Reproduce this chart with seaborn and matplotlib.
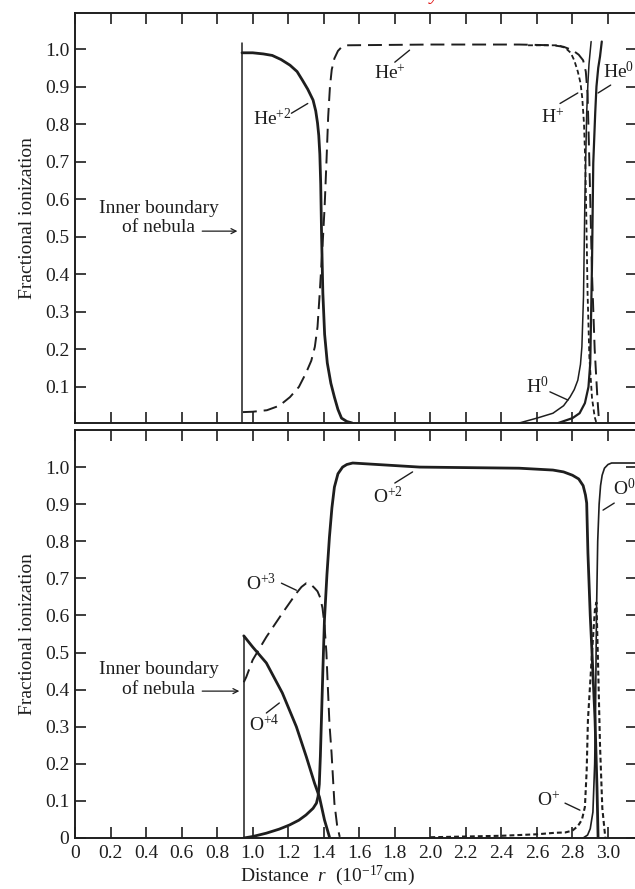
import matplotlib
matplotlib.use("Agg")
import matplotlib.pyplot as plt
import seaborn as sns

# ---- radial distance r (1e17 cm) and fractional ionization per ion ----
# upper panel: hydrogen and helium
bound_top_r = [0.94, 0.94]
bound_top_f = [0.004, 1.016]

he2_r = [0.94, 1.0, 1.06, 1.11, 1.16, 1.21, 1.25, 1.28, 1.31, 1.34, 1.355, 1.365, 1.372, 1.378,
         1.383, 1.388, 1.395, 1.405, 1.42, 1.44, 1.46, 1.48, 1.5, 1.53, 1.56]
he2_f = [0.99, 0.99, 0.987, 0.983, 0.972, 0.957, 0.94, 0.917, 0.893, 0.864, 0.835, 0.803, 0.77, 0.72,
         0.64, 0.5, 0.35, 0.24, 0.164, 0.11, 0.073, 0.04, 0.017, 0.008, 0.004]

he1_r = [0.945, 1.0, 1.08, 1.15, 1.21, 1.26, 1.30, 1.33, 1.35, 1.365, 1.376, 1.393, 1.405, 1.415,
         1.425, 1.435, 1.445, 1.46, 1.48, 1.5, 1.53, 2.0, 2.5, 2.69, 2.75, 2.80, 2.835, 2.86,
         2.875, 2.885, 2.895, 2.91, 2.925, 2.94, 2.95]
he1_f = [0.033, 0.034, 0.038, 0.05, 0.073, 0.1, 0.137, 0.17, 0.207, 0.26, 0.34, 0.473, 0.58, 0.696,
         0.82, 0.9, 0.945, 0.975, 0.995, 1.005, 1.01, 1.012, 1.012, 1.01, 1.006, 0.997, 0.985, 0.97,
         0.94, 0.88, 0.7, 0.4, 0.2, 0.073, 0.004]

h1_r = [2.55, 2.72, 2.76, 2.79, 2.81, 2.83, 2.845, 2.855, 2.865, 2.872, 2.878, 2.885, 2.895, 2.91,
        2.925, 2.935]
h1_f = [1.01, 1.01, 1.003, 0.99, 0.97, 0.94, 0.91, 0.87, 0.8, 0.7, 0.55, 0.35, 0.18, 0.07,
        0.02, 0.004]

h0_r = [2.5, 2.6, 2.69, 2.75, 2.786, 2.81, 2.83, 2.845, 2.853, 2.862, 2.87, 2.88, 2.887, 2.893, 2.905]
h0_f = [0.004, 0.017, 0.03, 0.05, 0.073, 0.093, 0.118, 0.16, 0.207, 0.34, 0.605, 0.83, 0.91, 0.96, 1.02]

he0_r = [2.72, 2.8, 2.84, 2.87, 2.89, 2.9, 2.91, 2.917, 2.928, 2.935, 2.945, 2.955, 2.965]
he0_f = [0.004, 0.017, 0.03, 0.057, 0.1, 0.163, 0.43, 0.696, 0.83, 0.9, 0.95, 0.98, 1.02]

# lower panel: oxygen
bound_bot_r = [0.95, 0.95]
bound_bot_f = [0.0, 0.545]

o4_r = [0.95, 1.0, 1.077, 1.167, 1.246, 1.302, 1.348, 1.376, 1.404, 1.432]
o4_f = [0.545, 0.515, 0.472, 0.391, 0.3, 0.219, 0.148, 0.11, 0.049, 0.003]

o3_r = [0.95, 0.964, 1.0, 1.077, 1.167, 1.246, 1.275, 1.302, 1.325, 1.348, 1.365, 1.38, 1.393,
        1.404, 1.415, 1.421, 1.432, 1.444, 1.46, 1.475, 1.49]
o3_f = [0.42, 0.434, 0.48, 0.542, 0.606, 0.66, 0.677, 0.687, 0.685, 0.674, 0.665, 0.648, 0.62,
        0.575, 0.5, 0.43, 0.31, 0.229, 0.094, 0.035, 0.003]

o2_r = [0.95, 1.0, 1.077, 1.15, 1.207, 1.26, 1.30, 1.34, 1.359, 1.368, 1.375, 1.381, 1.387, 1.395,
        1.404, 1.418, 1.432, 1.446, 1.46, 1.48, 1.506, 1.53, 1.563, 1.94, 2.5, 2.69, 2.75, 2.80,
        2.835, 2.86, 2.873, 2.88, 2.887, 2.9, 2.91, 2.927, 2.938, 2.944]
o2_f = [0.0, 0.004, 0.013, 0.024, 0.035, 0.048, 0.062, 0.08, 0.094, 0.112, 0.145, 0.22, 0.318, 0.45,
        0.588, 0.71, 0.811, 0.89, 0.946, 0.982, 1.0, 1.007, 1.011, 1.0, 0.997, 0.992, 0.987, 0.978,
        0.968, 0.95, 0.925, 0.903, 0.768, 0.6, 0.499, 0.318, 0.137, 0.003]

o0_r = [2.86, 2.885, 2.9, 2.915, 2.925, 2.93, 2.935, 2.942, 2.95, 2.958, 2.967, 2.98, 3.0, 3.02, 3.165]
o0_f = [0.0, 0.008, 0.025, 0.07, 0.2, 0.35, 0.6, 0.8, 0.9, 0.95, 0.978, 0.997, 1.007, 1.011, 1.011]

o1_r = [2.0, 2.2, 2.4, 2.6, 2.7, 2.76, 2.8, 2.83, 2.853, 2.87, 2.88, 2.887, 2.9, 2.91, 2.927,
        2.935, 2.945, 2.955, 2.968, 2.985]
o1_f = [0.002, 0.004, 0.006, 0.01, 0.014, 0.015, 0.02, 0.032, 0.049, 0.084, 0.183, 0.318, 0.42,
        0.5, 0.62, 0.635, 0.45, 0.25, 0.08, 0.0]

x_ticks = [0, 0.2, 0.4, 0.6, 0.8, 1.0, 1.2, 1.4, 1.6, 1.8, 2.0, 2.2, 2.4, 2.6, 2.8, 3.0]
x_tick_labels = ["0", "0.2", "0.4", "0.6", "0.8", "1.0", "1.2", "1.4", "1.6", "1.8",
                 "2.0", "2.2", "2.4", "2.6", "2.8", "3.0"]
y_ticks_top = [0.1, 0.2, 0.3, 0.4, 0.5, 0.6, 0.7, 0.8, 0.9, 1.0]
y_ticks_bot = [0, 0.1, 0.2, 0.3, 0.4, 0.5, 0.6, 0.7, 0.8, 0.9, 1.0]
y_tick_labels_top = ["0.1", "0.2", "0.3", "0.4", "0.5", "0.6", "0.7", "0.8", "0.9", "1.0"]
y_tick_labels_bot = ["0", "0.1", "0.2", "0.3", "0.4", "0.5", "0.6", "0.7", "0.8", "0.9", "1.0"]

# ---- styling ----
sns.set_theme(style="ticks")
INK = "#1e1e1e"
plt.rcParams.update({
    "font.family": ["Liberation Serif", "DejaVu Serif"],
    "mathtext.fontset": "custom",
    "mathtext.rm": "Liberation Serif",
    "mathtext.it": "Liberation Serif:italic",
    "mathtext.bf": "Liberation Serif:bold",
    "lines.scale_dashes": False,
    "axes.edgecolor": INK,
    "axes.linewidth": 1.4,
    "text.color": INK,
    "xtick.color": INK,
    "ytick.color": INK,
    "axes.labelcolor": INK,
})

FS = 14
LONG = (0, (10, 5))
SHORT = (0, (3.5, 2.2))

fig = plt.figure(figsize=(6.35, 8.89), dpi=100)
W, H = 635.0, 889.0
left = 75 / W
width = (3.165 * 177.67) / W
ax_top = fig.add_axes([left, 1 - 423 / H, width, 410 / H])
ax_bot = fig.add_axes([left, 1 - 838 / H, width, 408 / H])


def curve(ax, r, f, lw, ls="-"):
    sns.lineplot(x=r, y=f, ax=ax, estimator=None, sort=False, color=INK,
                 linewidth=lw, linestyle=ls, solid_capstyle="round",
                 solid_joinstyle="round")


def leader(ax, start, end):
    ax.annotate("", xy=end, xytext=start,
                arrowprops=dict(arrowstyle="-", color=INK, lw=1.0,
                                shrinkA=0, shrinkB=0))


def boundary_note(ax, yc, y_arrow, x_end):
    ax.text(0.47, yc, "Inner boundary\nof nebula", ha="center", va="center",
            fontsize=FS, linespacing=1.2)
    ax.annotate("", xy=(x_end, y_arrow), xytext=(0.716, y_arrow),
                arrowprops=dict(arrowstyle="->", color=INK, lw=0.9,
                                mutation_scale=9, shrinkA=0, shrinkB=0))


# upper panel
curve(ax_top, bound_top_r, bound_top_f, 1.1)
curve(ax_top, he2_r, he2_f, 2.0)
curve(ax_top, he1_r, he1_f, 1.4, LONG)
curve(ax_top, h1_r, h1_f, 1.3, SHORT)
curve(ax_top, h0_r, h0_f, 1.1)
curve(ax_top, he0_r, he0_f, 1.6)

ax_top.text(1.109, 0.816, "He$^{+2}$", ha="center", va="center", fontsize=FS)
leader(ax_top, (1.218, 0.829), (1.31, 0.855))
ax_top.text(1.77, 0.935, "He$^{+}$", ha="center", va="center", fontsize=FS)
leader(ax_top, (1.80, 0.965), (1.883, 0.997))
ax_top.text(2.69, 0.816, "H$^{+}$", ha="center", va="center", fontsize=FS)
leader(ax_top, (2.73, 0.855), (2.83, 0.883))
ax_top.text(2.972, 0.939, "He$^{0}$", ha="left", va="center", fontsize=FS)
leader(ax_top, (3.015, 0.904), (2.944, 0.883))
ax_top.text(2.60, 0.10, "H$^{0}$", ha="center", va="center", fontsize=FS)
leader(ax_top, (2.673, 0.087), (2.775, 0.065))
boundary_note(ax_top, 0.55, 0.515, 0.914)

# lower panel
curve(ax_bot, bound_bot_r, bound_bot_f, 1.1)
curve(ax_bot, o4_r, o4_f, 2.0)
curve(ax_bot, o3_r, o3_f, 1.4, LONG)
curve(ax_bot, o2_r, o2_f, 2.0)
curve(ax_bot, o0_r, o0_f, 1.2)
curve(ax_bot, o1_r, o1_f, 1.5, SHORT)

ax_bot.text(1.049, 0.685, "O$^{+3}$", ha="center", va="center", fontsize=FS)
leader(ax_bot, (1.162, 0.687), (1.246, 0.668))
ax_bot.text(1.066, 0.307, "O$^{+4}$", ha="center", va="center", fontsize=FS)
leader(ax_bot, (1.077, 0.337), (1.15, 0.364))
ax_bot.text(1.76, 0.92, "O$^{+2}$", ha="center", va="center", fontsize=FS)
leader(ax_bot, (1.80, 0.957), (1.90, 0.987))
ax_bot.text(3.03, 0.943, "O$^{0}$", ha="left", va="center", fontsize=FS)
leader(ax_bot, (3.035, 0.903), (2.972, 0.884))
ax_bot.text(2.667, 0.102, "O$^{+}$", ha="center", va="center", fontsize=FS)
leader(ax_bot, (2.758, 0.094), (2.842, 0.075))
boundary_note(ax_bot, 0.428, 0.396, 0.925)

# axes, ticks, labels
for ax, yt, ytl, ylim in [(ax_top, y_ticks_top, y_tick_labels_top, (0.004, 1.096)),
                          (ax_bot, y_ticks_bot, y_tick_labels_bot, (0.0, 1.1))]:
    ax.set_xlim(0, 3.165)
    ax.set_ylim(*ylim)
    ax.set_xticks(x_ticks)
    ax.set_yticks(yt)
    ax.set_yticklabels(ytl)
    ax.tick_params(axis="both", which="major", direction="in", length=8, width=1.2,
                   top=True, right=True, labelsize=FS, pad=4)
    ax.set_ylabel("Fractional ionization", fontsize=FS)
    ax.yaxis.set_label_coords(-0.069, 0.5)
    for s in ax.spines.values():
        s.set_visible(True)
        s.set_linewidth(1.4)

ax_top.set_xticklabels([])
ax_top.set_xlabel("")
ax_bot.set_xticklabels(x_tick_labels)
ax_bot.tick_params(axis="x", pad=5)
ax_bot.set_xlabel("Distance  $r$  (10$^{-17}$cm)", fontsize=FS)
ax_bot.xaxis.set_label_coords(0.448, -0.063)

fig.text(430 / W, 1.0, "y", color="#e01010", fontsize=14, style="italic",
         ha="left", va="baseline")

fig.savefig("out.png", dpi=100, facecolor="white")
